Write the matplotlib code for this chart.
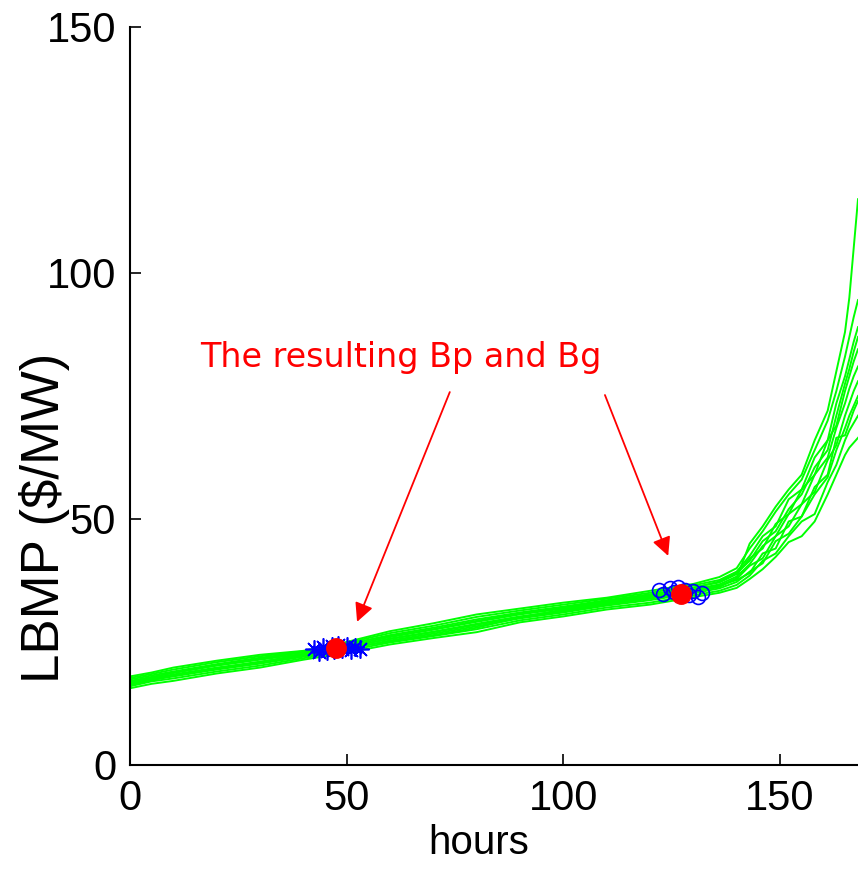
import matplotlib
matplotlib.use('Agg')
import matplotlib.pyplot as plt
import numpy as np

hours = [0, 5, 10, 20, 30, 40, 50, 60, 70, 80, 90, 100, 110, 120, 130, 136,
         140, 143, 146, 149, 152, 155, 158, 161, 163, 165, 166, 167, 168]

curves = [
    [15.6, 16.5, 17.1, 18.6, 19.8, 21.4, 22.8, 24.5, 25.8, 27.0, 29.0, 30.2, 31.6, 32.6, 34.1, 35.0,
     36.0, 37.8, 39.8, 42.3, 45.3, 46.5, 49.5, 55.0, 59.0, 63.0, 64.5, 65.5, 66.5],
    [16.0, 17.0, 17.6, 19.0, 20.2, 21.7, 23.2, 24.9, 26.2, 27.6, 29.4, 30.6, 32.0, 33.0, 34.5, 35.4,
     36.6, 38.5, 41.5, 43.0, 46.5, 49.5, 51.0, 57.5, 61.0, 66.0, 68.0, 69.5, 71.0],
    [16.4, 17.3, 18.0, 19.4, 20.6, 22.0, 23.6, 25.3, 26.7, 28.2, 29.8, 31.0, 32.4, 33.5, 34.9, 35.9,
     37.2, 39.3, 41.0, 45.5, 47.0, 50.5, 55.0, 58.5, 64.0, 68.5, 71.0, 73.0, 75.0],
    [16.8, 17.6, 18.4, 19.8, 21.0, 22.3, 23.9, 25.7, 27.1, 28.7, 30.2, 31.4, 32.8, 33.9, 35.3, 36.3,
     37.8, 40.5, 42.0, 46.5, 48.5, 53.0, 55.5, 62.0, 65.0, 71.0, 73.5, 76.0, 78.0],
    [17.1, 17.9, 18.7, 20.2, 21.4, 22.6, 24.2, 26.0, 27.5, 29.1, 30.6, 31.8, 33.1, 34.3, 35.7, 36.7,
     38.3, 40.8, 44.5, 46.5, 51.0, 53.0, 59.0, 62.5, 68.5, 73.5, 76.5, 79.0, 81.0],
    [17.4, 18.2, 19.0, 20.5, 21.8, 22.9, 24.5, 26.4, 27.9, 29.6, 31.0, 32.2, 33.5, 34.7, 36.1, 37.1,
     38.8, 42.0, 44.0, 49.0, 51.0, 56.0, 59.0, 66.0, 69.0, 76.0, 79.0, 82.0, 84.5],
    [17.7, 18.5, 19.4, 20.9, 22.1, 23.1, 24.8, 26.8, 28.3, 30.1, 31.4, 32.6, 33.8, 35.0, 36.5, 37.6,
     39.3, 42.5, 46.5, 48.5, 54.0, 56.0, 62.5, 66.0, 73.5, 79.0, 82.5, 86.0, 89.0],
    [18.0, 18.8, 19.8, 21.2, 22.4, 23.2, 25.0, 27.2, 28.8, 30.6, 31.8, 33.0, 34.0, 35.4, 36.8, 38.2,
     40.0, 44.0, 47.5, 51.5, 55.0, 58.0, 64.0, 70.0, 76.0, 83.0, 87.0, 91.0, 94.5],
    [16.2, 17.2, 18.2, 19.6, 20.8, 22.2, 24.0, 25.6, 27.0, 28.5, 30.0, 31.2, 32.6, 33.8, 35.2, 36.2,
     38.0, 45.0, 48.5, 52.5, 56.0, 59.0, 66.0, 72.0, 80.0, 88.0, 95.0, 105.0, 115.0],
    [16.6, 17.5, 18.2, 19.6, 20.9, 22.5, 23.7, 25.1, 26.4, 27.9, 30.0, 31.6, 32.9, 34.1, 35.5, 36.5,
     37.6, 39.0, 43.0, 44.0, 49.5, 50.5, 56.5, 59.0, 66.5, 67.0, 69.5, 72.0, 74.0],
    [16.9, 17.8, 18.8, 20.3, 21.6, 22.9, 24.6, 26.2, 27.6, 29.3, 30.8, 32.0, 33.3, 34.5, 36.0, 37.3,
     39.0, 41.5, 45.5, 47.5, 52.0, 55.0, 60.5, 64.0, 71.0, 77.5, 80.5, 84.0, 87.0],
]

# individual Bp (stars) and Bg (circles) estimates
bp_x = [42.5, 43.5, 44.5, 45.5, 46.5, 47.0, 48.0, 49.0, 50.0, 51.0, 52.0, 53.0]
bp_y = [23.6, 22.9, 23.9, 23.2, 24.2, 23.4, 24.3, 23.5, 24.1, 23.3, 24.0, 23.6]
bg_x = [122.0, 123.0, 124.5, 125.5, 126.5, 127.0, 128.0, 129.0, 130.0, 131.0, 132.0]
bg_y = [35.5, 34.8, 36.0, 35.2, 36.2, 35.0, 35.6, 34.6, 35.4, 34.2, 35.0]

# resulting Bp and Bg
res_x = [47.5, 127.2]
res_y = [23.8, 34.8]

big = ['Liberation Sans', 'DejaVu Sans']

fig = plt.figure(figsize=(8.58, 8.69), dpi=100)
ax = fig.add_axes([130 / 858, 104 / 869, 728 / 858, 738 / 869])

for c in curves:
    ax.plot(hours, c, color='#00ff00', linewidth=1.4)

ax.plot(bp_x, bp_y, linestyle='none', marker=(8, 2, 0), markersize=13,
        markeredgecolor='#0000ff', markeredgewidth=1.2)
ax.plot(bg_x, bg_y, linestyle='none', marker='o', markersize=10,
        markerfacecolor='none', markeredgecolor='#0000ff', markeredgewidth=1.2)
ax.plot(res_x, res_y, linestyle='none', marker='o', markersize=14,
        color='#ff0000')

ax.text(62.5, 82.9, 'The resulting Bp and Bg', color='#ff0000', fontsize=24,
        ha='center', va='center')
arrow = dict(arrowstyle='-|>', color='#ff0000', lw=1.3, mutation_scale=28,
             shrinkA=0, shrinkB=0)
ax.annotate('', xy=(52.4, 29.1), xytext=(73.8, 75.8), arrowprops=arrow)
ax.annotate('', xy=(124.2, 42.5), xytext=(109.6, 75.2), arrowprops=arrow)

ax.set_xlim(0, 168)
ax.set_ylim(0, 150)
ax.set_xticks([0, 50, 100, 150])
ax.set_yticks([0, 50, 100, 150])
ax.spines['top'].set_visible(False)
ax.spines['right'].set_visible(False)
for s in ('left', 'bottom'):
    ax.spines[s].set_linewidth(1.5)
ax.tick_params(direction='in', length=8, width=1.2, pad=10, labelsize=30)
for lab in ax.get_xticklabels() + ax.get_yticklabels():
    lab.set_family(big)

ax.set_xlabel('hours', fontsize=29, family=big)
ax.set_ylabel('LBMP ($/MW)', fontsize=38, family=big)
ax.xaxis.set_label_coords(0.479, -0.08, transform=ax.transAxes)
ax.xaxis.label.set_va('top')
ax.yaxis.set_label_coords(-0.083, 0.335, transform=ax.transAxes)

fig.savefig('out.png', dpi=100)
